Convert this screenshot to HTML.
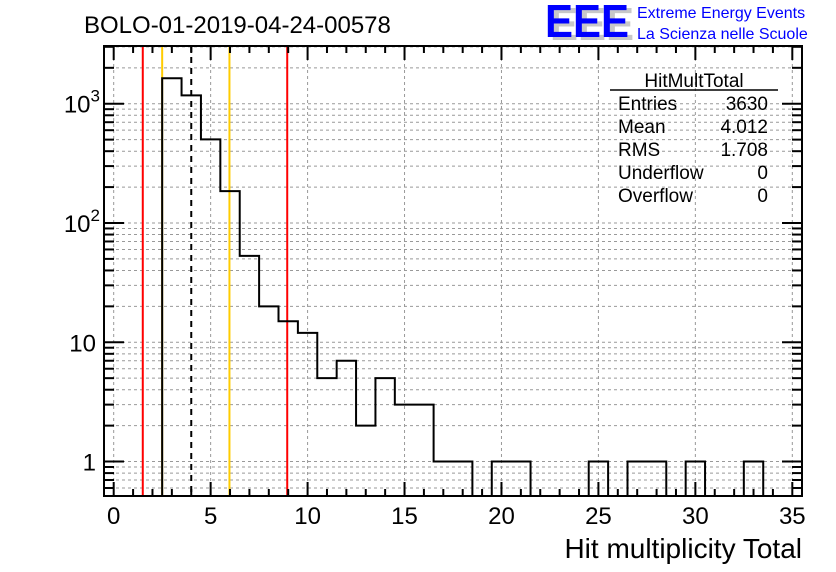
<!DOCTYPE html>
<html><head><meta charset="utf-8"><style>
body{margin:0;background:#fff;}
svg{display:block;font-family:"Liberation Sans",sans-serif;}
</style></head><body>
<svg id="c" width="836" height="572">
<rect width="836" height="572" fill="#fff"/>
<text x="84" y="33" font-size="24">BOLO-01-2019-04-24-00578</text>
<g>
<text x="550" y="40" font-size="46" font-weight="bold" fill="#c8c8c8" textLength="84" lengthAdjust="spacingAndGlyphs">EEE</text>
<text x="545" y="37" font-size="46" font-weight="bold" fill="#0000ff" textLength="84" lengthAdjust="spacingAndGlyphs">EEE</text>
<text x="637" y="18" font-size="16" fill="#0000ff">Extreme Energy Events</text>
<text x="637" y="39" font-size="16" fill="#0000ff">La Scienza nelle Scuole</text>
</g>
<g id="grid"></g>
<g id="vlines"></g>
<path id="hist" fill="none" stroke="#000" stroke-width="2"/>
<g id="axes"></g>
<g font-size="19">
<text x="694" y="87" text-anchor="middle">HitMultTotal</text>
<line x1="610" y1="90" x2="778" y2="90" stroke="#000" stroke-width="1.5"/>
<text x="618" y="110">Entries</text><text x="768" y="110" text-anchor="end">3630</text>
<text x="618" y="133">Mean</text><text x="768" y="133" text-anchor="end">4.012</text>
<text x="618" y="156">RMS</text><text x="768" y="156" text-anchor="end">1.708</text>
<text x="618" y="179">Underflow</text><text x="768" y="179" text-anchor="end">0</text>
<text x="618" y="202">Overflow</text><text x="768" y="202" text-anchor="end">0</text>
</g>
<text x="802" y="558" font-size="28" text-anchor="end">Hit multiplicity Total</text>
</svg>
<script>
const binCenters=[3,4,5,6,7,8,9,10,11,12,13,14,15,16,17,18,19,20,21,22,23,24,25,26,27,28,29,30,31,32,33];
const counts=[1634,1174,503,185,53,20,15,12,5,7,2,5,3,3,1,1,0,1,1,0,0,0,1,0,1,1,0,1,0,0,1];
const xTicks=[0,5,10,15,20,25,30,35];
const yMajor=[1,10,100,1000];
const yMajorLabels=["1","10","10²","10³"];
const redLines=[1.5,8.95];
const orangeLines=[2.5,5.97];
const meanLine=[4.0];
const NS="http://www.w3.org/2000/svg";
const L=104,R=802,T=46,B=496,xmin=-0.5,xmax=35.5,ymin=Math.log10(0.514),ymax=Math.log10(3048);
const X=v=>L+(v-xmin)/(xmax-xmin)*(R-L);
const Y=v=>B-(Math.log10(v)-ymin)/(ymax-ymin)*(B-T);
function mk(t,a,p){const e=document.createElementNS(NS,t);for(const k in a)e.setAttribute(k,a[k]);p.appendChild(e);return e;}
const grid=document.getElementById('grid'),axes=document.getElementById('axes'),vl=document.getElementById('vlines');
xTicks.forEach(v=>{const g=mk('line',{x1:X(v),x2:X(v),y1:T,y2:B,stroke:'#999','stroke-dasharray':'3,3','stroke-width':1},grid);
});
const yGridVals=[];for(let d=-1;d<=3;d++)for(let k=1;k<=9;k++){const v=k*Math.pow(10,d);if(v>=0.514&&v<=3048)yGridVals.push(v);}
yGridVals.forEach(v=>{const g=mk('line',{x1:L,x2:R,y1:Y(v),y2:Y(v),stroke:'#999','stroke-dasharray':'3,3','stroke-width':1},grid);
});
redLines.forEach(v=>{const e=mk('line',{x1:X(v),x2:X(v),y1:T,y2:B,stroke:'#ff0000','stroke-width':2},vl);
});
orangeLines.forEach(v=>{const e=mk('line',{x1:X(v),x2:X(v),y1:T,y2:B,stroke:'#ffcc00','stroke-width':2},vl);
});
meanLine.forEach(v=>{const e=mk('line',{x1:X(v),x2:X(v),y1:T,y2:B,stroke:'#000','stroke-width':2,'stroke-dasharray':'6,5'},vl);
});
let d='';
binCenters.forEach((c,i)=>{const n=counts[i];const y=n>0?Y(n):B;const x0=X(c-0.5),x1=X(c+0.5);
if(i===0)d+=`M${x0},${B}`;d+=`L${x0},${y}L${x1},${y}`;});
d+=`L${X(binCenters[binCenters.length-1]+0.5)},${B}`;
document.getElementById('hist').setAttribute('d',d);
mk('rect',{x:L,y:T,width:R-L,height:B-T,fill:'none',stroke:'#000','stroke-width':2},axes);
for(let v=0;v<=35;v++){const maj=v%5===0,len=maj?14:7;
mk('line',{x1:X(v),x2:X(v),y1:B,y2:B-len,stroke:'#000','stroke-width':2},axes);
mk('line',{x1:X(v),x2:X(v),y1:T,y2:T+len,stroke:'#000','stroke-width':2},axes);}
xTicks.forEach(v=>{const t=mk('text',{x:X(v),y:524,'font-size':24,'text-anchor':'middle'},axes);t.textContent=v;
});
yGridVals.forEach(v=>{const maj=yMajor.includes(v),len=maj?20:10;
mk('line',{x1:L,x2:L+len,y1:Y(v),y2:Y(v),stroke:'#000','stroke-width':2},axes);
mk('line',{x1:R,x2:R-len,y1:Y(v),y2:Y(v),stroke:'#000','stroke-width':2},axes);});
yMajor.forEach((v,i)=>{const t=mk('text',{x:96,y:Y(v)+9,'font-size':24,'text-anchor':'end'},axes);
const lab=yMajorLabels[i];
if(lab.length>2){t.textContent='10';const s=mk('tspan',{dy:-11,'font-size':17},t);s.textContent=lab==='10²'?'2':'3';t.setAttribute('x',100);}
else t.textContent=lab;
});
</script>
</body></html>
